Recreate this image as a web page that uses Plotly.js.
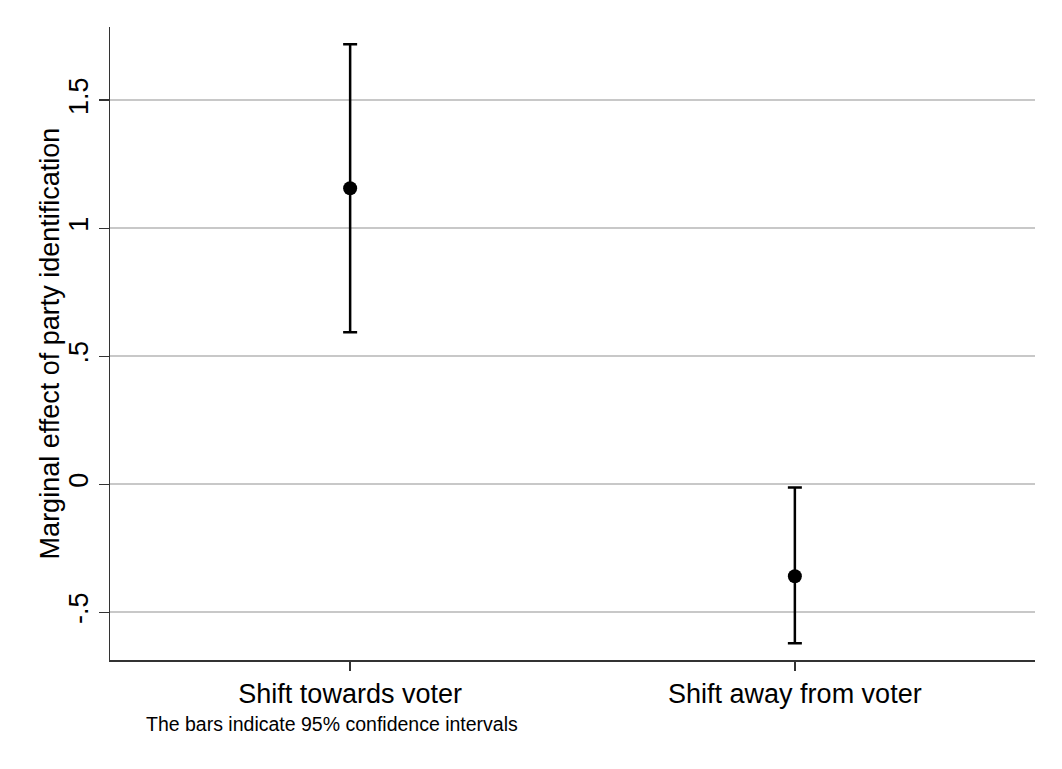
<!DOCTYPE html>
<html>
<head>
<meta charset="utf-8">
<script src="https://cdn.plot.ly/plotly-3.0.1.min.js"></script>
<style>html,body{margin:0;padding:0;background:#fff;}#chart{width:1062px;height:769px;}</style>
</head>
<body>
<div id="chart"></div>
<script>
const categories = ["Shift towards voter", "Shift away from voter"];
const estimate = [1.156, -0.359];
const ciLow = [0.594, -0.621];
const ciHigh = [1.719, -0.012];
const yTickVals = [-0.5, 0, 0.5, 1, 1.5];
const yTickText = ["-.5", "0", ".5", "1", "1.5"];
const yTitle = "Marginal effect of party identification";
const noteText = "The bars indicate 95% confidence intervals";

const trace = {
  type: "scatter",
  mode: "markers",
  x: categories,
  y: estimate,
  marker: {color: "#000", size: 14},
  error_y: {
    type: "data",
    symmetric: false,
    array: estimate.map((v, i) => ciHigh[i] - v),
    arrayminus: estimate.map((v, i) => v - ciLow[i]),
    color: "#000",
    thickness: 2.5,
    width: 7
  },
  showlegend: false,
  hoverinfo: "skip"
};

const font = "Liberation Sans, Arial, sans-serif";
const layout = {
  width: 1062, height: 769,
  margin: {l: 110, r: 27, t: 27, b: 109},
  paper_bgcolor: "#fff", plot_bgcolor: "#fff",
  font: {family: font, color: "#000"},
  xaxis: {
    type: "category",
    range: [-0.54, 1.54],
    showgrid: false, zeroline: false,
    showline: true, linecolor: "#333", linewidth: 1.5,
    ticks: "outside", ticklen: 9, tickcolor: "#333", tickwidth: 1.5,
    tickfont: {size: 27, family: font, color: "#000"}
  },
  yaxis: {
    range: [-0.686, 1.786],
    tickvals: yTickVals, ticktext: yTickText,
    tickangle: -90,
    showgrid: true, gridcolor: "#c8c8c8", gridwidth: 2,
    zeroline: false,
    showline: true, linecolor: "#333", linewidth: 1.5,
    ticks: "outside", ticklen: 10, tickcolor: "#333", tickwidth: 1.5,
    tickfont: {size: 27, family: font, color: "#000"}
  },
  annotations: [{
    text: yTitle, xref: "paper", yref: "paper",
    x: -0.065, y: 0.5, xanchor: "center", yanchor: "middle", textangle: -90,
    showarrow: false, font: {size: 27, family: font, color: "#000"}
  }, {
    text: noteText, xref: "paper", yref: "paper",
    x: 0.037, y: -0.101, xanchor: "left", yanchor: "middle",
    showarrow: false, font: {size: 19.5, family: font, color: "#000"}
  }]
};

Plotly.newPlot("chart", [trace], layout, {displayModeBar: false, staticPlot: true});
</script>
</body>
</html>
